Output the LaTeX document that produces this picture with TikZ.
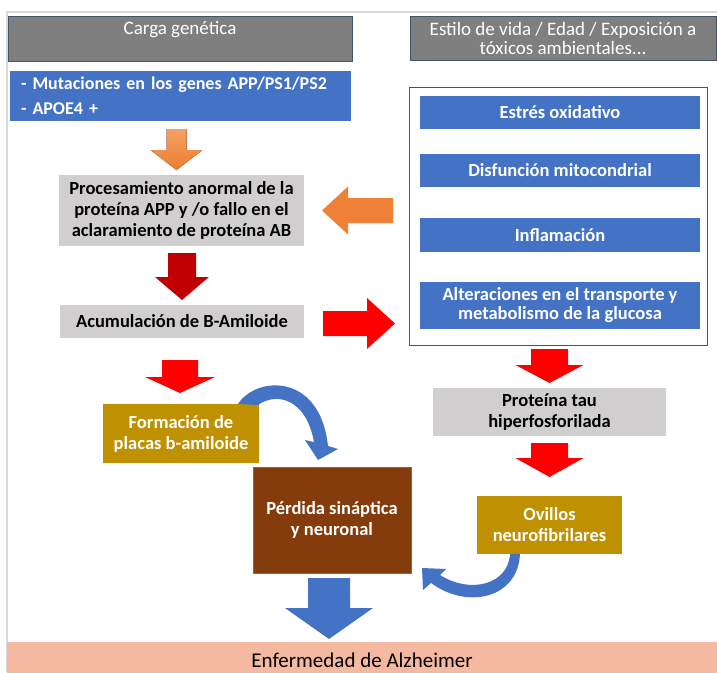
\documentclass[tikz,border=0pt]{standalone}
\usepackage{fontspec}
\setmainfont{Carlito}
\usepackage{tikz}
\usepackage{xcolor}
\tikzset{>=latex}
\usetikzlibrary{calc}

\definecolor{hdrgray}{HTML}{7F7F7F}
\definecolor{hdrline}{HTML}{44546A}
\definecolor{boxblue}{HTML}{4472C4}
\definecolor{boxgray}{HTML}{D0CECE}
\definecolor{boxgold}{HTML}{BF9000}
\definecolor{boxbrown}{HTML}{843C0C}
\definecolor{salmon}{HTML}{F4B9A0}
\definecolor{framegray}{HTML}{D9D9D9}
\definecolor{orgA}{HTML}{F5A062}
\definecolor{orgB}{HTML}{ED7D31}
\definecolor{darkred}{HTML}{C00000}

% block arrows: style, tail, tip, half shaft, half head, head offset
\newcommand{\blkv}[6]{\fill[#1] ($#2+(-#4,0)$) -- ($#2+(#4,0)$) -- ($#3+(#4,#6)$) -- ($#3+(#5,#6)$) -- ($#3$) -- ($#3+(-#5,#6)$) -- ($#3+(-#4,#6)$) -- cycle;}
\newcommand{\blkh}[6]{\fill[#1] ($#2+(0,-#4)$) -- ($#3+(#6,-#4)$) -- ($#3+(#6,-#5)$) -- ($#3$) -- ($#3+(#6,#5)$) -- ($#3+(#6,#4)$) -- ($#2+(0,#4)$) -- cycle;}

\begin{document}
\begin{tikzpicture}[x=1pt, y=-1pt,
    box/.style={anchor=north west, inner sep=0pt, outer sep=0pt, align=center,
      font=\bfseries\fontsize{18.5}{21}\selectfont},
    hdr/.style={box, fill=hdrgray, draw=hdrline, text=white, font=\fontsize{19}{19}\selectfont},
    bluebox/.style={box, fill=boxblue, text=white},
    graybox/.style={box, fill=boxgray, text=black},
    goldbox/.style={box, fill=boxgold, text=white}]
  \useasboundingbox (0,0) rectangle (717,672);
  \draw[framegray, line width=2.5pt] (7,672) -- (7,12) -- (717,12);

  % left column
  \node[hdr, minimum width=344, text height=18pt, text depth=27pt] (hgen) at (8,16) {Carga genética};
  \node[bluebox, align=left, text width=319pt, inner xsep=11pt, minimum height=50,
    font=\bfseries\fontsize{18}{25}\selectfont] (mut) at (10,71)
    {- Mutaciones en los genes APP/PS1/PS2\\- APOE4 +};
  \node[graybox, minimum width=245, minimum height=71] (proc) at (59,175)
    {Procesamiento anormal de la\\proteína APP y /o fallo en el\\aclaramiento de proteína AB};
  \node[graybox, minimum width=244, minimum height=33] (acu) at (60,305) {Acumulación de B-Amiloide};
  \node[goldbox, minimum width=156, minimum height=59] (form) at (103,404) {Formación de\\placas b-amiloide};
  \node[box, fill=boxbrown, draw=boxblue, text=white, minimum width=158, minimum height=106] (perd) at (253,467)
    {Pérdida sináptica\\y neuronal};

  % right column
  \node[hdr, minimum width=306, minimum height=44] (hest) at (410,16)
    {Estilo de vida / Edad / Exposición a\\tóxicos ambientales...};
  \node[box, draw=hdrline, line width=1pt, minimum width=298, minimum height=258] (env) at (409,87) {};
  \node[bluebox, minimum width=280, minimum height=33] (est) at (420,96) {Estrés oxidativo};
  \node[bluebox, minimum width=280, minimum height=33] (dis) at (420,154) {Disfunción mitocondrial};
  \node[bluebox, minimum width=280, minimum height=34] (inf) at (420,218) {Inflamación};
  \node[bluebox, minimum width=280, minimum height=47, font=\bfseries\fontsize{18.5}{19}\selectfont] (alt) at (420,282)
    {Alteraciones en el transporte y\\metabolismo de la glucosa};
  \node[graybox, minimum width=233, minimum height=48] (tau) at (433,388) {Proteína tau\\hiperfosforilada};
  \node[goldbox, minimum width=145, minimum height=58] (ovi) at (477,496) {Ovillos\\neurofibrilares};

  \node[box, fill=salmon, minimum width=710, minimum height=36, font=\fontsize{21}{24}\selectfont] (enf) at (7,642)
    {Enfermedad de Alzheimer};

  % arrows
  \blkv{top color=orgA, bottom color=orgB}{(mut.south)+(-4,8)}{(proc.north)+(-5,-5)}{10}{26}{-20}
  \blkv{darkred}{(proc.south)+(0.5,7)}{(acu.north)+(0,-5)}{14}{27}{-23}
  \blkh{orgB!90!orgA}{(proc.east)+(89,0)}{(proc.east)+(18,0)}{12.5}{24}{26}
  \blkh{red}{(acu.east)+(19,2)}{(acu.east)+(91,2)}{12.5}{25.5}{-28}
  \blkv{red}{(acu.south)+(-2,22)}{(form.north)+(-1,-11)}{18}{35}{-16}
  \blkv{red}{(env.south)+(-8.5,4)}{(tau.north)+(0,-5)}{18.5}{34}{-18}
  \blkv{red}{(tau.south)+(0,7)}{(ovi.north)+(0,-19)}{18.5}{34}{-19}
  \blkv{boxblue}{(perd.south)+(-3,5)}{(perd.south)+(-3,66)}{21}{44}{-31}

  % curved arrows
  \fill[boxblue] (238,404) .. controls (256,376) and (320,372) .. (328,446) -- (338,449) -- (318,460)
    -- (305,440) -- (314,442) .. controls (306,398) and (276,392) .. (258,405) -- cycle;
  \fill[boxblue] (520,554) .. controls (518,598) and (468,610) .. (431,583) -- (423,590) -- (422,568)
    -- (446,569) -- (440,575) .. controls (470,594) and (508,585) .. (510,554) -- cycle;
\end{tikzpicture}
\end{document}
